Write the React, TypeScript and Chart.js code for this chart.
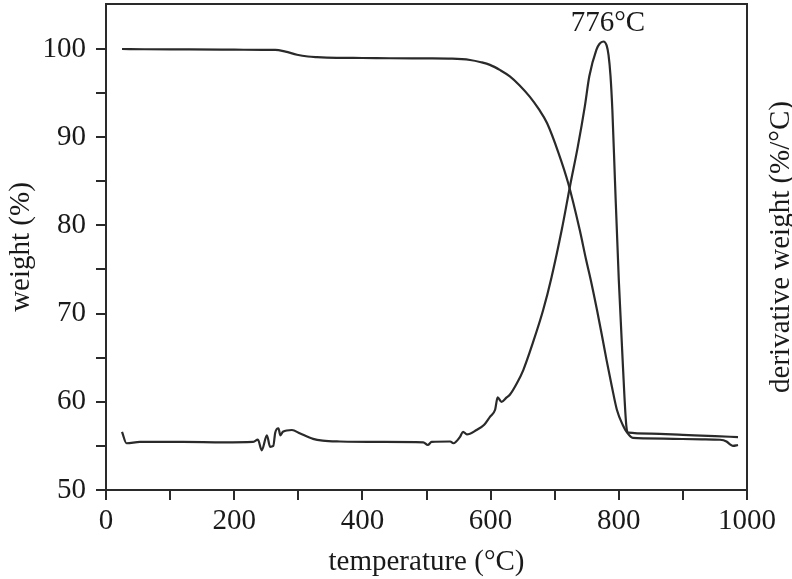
import React, { useEffect, useRef } from "react";
import { Chart, registerables } from "chart.js";

Chart.register(...registerables);

// Thermogravimetric (TG) weight curve
const tgTemp = [25, 60, 130, 200, 245, 264, 280, 298, 315, 329, 360, 400, 443, 500, 540, 568, 585, 599, 615, 630, 645, 661, 675, 688, 706, 721, 739, 749, 756, 766, 774, 781, 789, 797, 806, 813, 822, 840, 885, 930, 958, 968, 973, 978, 986];
const tgWeight = [100, 99.97, 99.95, 99.92, 99.9, 99.9, 99.7, 99.35, 99.15, 99.08, 99.0, 98.98, 98.95, 98.93, 98.9, 98.75, 98.5, 98.2, 97.6, 96.9, 95.9, 94.6, 93.2, 91.6, 88.2, 84.8, 79.5, 76.1, 73.9, 70.4, 67.4, 64.7, 61.8, 59.1, 57.4, 56.5, 55.9, 55.85, 55.8, 55.75, 55.7, 55.5, 55.2, 55.0, 55.1];

// Derivative (DTG) curve
const dtgTemp = [25, 32, 53, 120, 183, 229, 237, 243, 251, 256, 261, 264, 269, 272, 276, 290, 303, 323, 338, 365, 430, 495, 502, 508, 537, 542, 552, 557, 563, 578, 590, 599, 607, 611, 617, 625, 630, 641, 651, 666, 682, 695, 711, 724, 736, 747, 754, 765, 770, 776, 781, 784, 787, 790, 794, 800, 806, 812, 815, 850, 900, 950, 986];
const dtgValue = [56.6, 55.3, 55.45, 55.45, 55.4, 55.45, 55.7, 54.5, 56.2, 54.9, 55.0, 56.5, 57.0, 56.2, 56.6, 56.8, 56.4, 55.8, 55.6, 55.5, 55.45, 55.4, 55.1, 55.45, 55.5, 55.3, 56.0, 56.6, 56.3, 56.8, 57.4, 58.3, 59.1, 60.5, 60.0, 60.5, 60.8, 62.1, 63.6, 66.7, 70.4, 74.1, 79.5, 84.5, 88.9, 93.5, 96.9, 99.9, 100.6, 100.85, 100.4, 99.3, 97.0, 93.0, 85.1, 73.8, 64.7, 57.1, 56.5, 56.4, 56.25, 56.1, 56.0];

const yTickValues = [50, 55, 60, 65, 70, 75, 80, 85, 90, 95, 100];
const peakLabel = "776°C";
const peakLabelPos = { x: 783, y: 102.9 };
const xTitle = "temperature (°C)";
const yTitle = "weight (%)";
const y2Title = "derivative weight (%/°C)";

const FONT = "'Liberation Serif', 'Times New Roman', serif";
const INK = "#1a1a1a";
const LINE = "#2a2a2a";

export default function App() {
  const ref = useRef<HTMLCanvasElement | null>(null);

  useEffect(() => {
    if (!ref.current) return;
    const framePlugin = {
      id: "frameAndText",
      afterDraw(chart: any) {
        const { ctx, chartArea, scales } = chart;
        ctx.save();
        ctx.strokeStyle = LINE;
        ctx.lineWidth = 2;
        ctx.strokeRect(chartArea.left, chartArea.top, chartArea.right - chartArea.left, chartArea.bottom - chartArea.top);
        ctx.fillStyle = INK;
        ctx.font = `29px ${FONT}`;
        ctx.textAlign = "center";
        ctx.textBaseline = "middle";
        ctx.fillText(peakLabel, scales.x.getPixelForValue(peakLabelPos.x), scales.y.getPixelForValue(peakLabelPos.y));
        ctx.translate(781, (chartArea.top + chartArea.bottom) / 2);
        ctx.rotate(-Math.PI / 2);
        ctx.fillText(y2Title, 0, 0);
        ctx.restore();
      },
    };

    const chart = new Chart(ref.current, {
      type: "line",
      data: {
        datasets: [
          {
            label: "weight",
            data: tgTemp.map((t, i) => ({ x: t, y: tgWeight[i] })),
            borderColor: LINE,
            borderWidth: 2.2,
            pointRadius: 0,
            cubicInterpolationMode: "monotone",
            fill: false,
          },
          {
            label: "derivative weight",
            data: dtgTemp.map((t, i) => ({ x: t, y: dtgValue[i] })),
            borderColor: LINE,
            borderWidth: 2.2,
            pointRadius: 0,
            cubicInterpolationMode: "monotone",
            fill: false,
          },
        ],
      },
      options: {
        animation: false,
        responsive: false,
        layout: { padding: { top: 4, right: 45, left: 0, bottom: 0 } },
        plugins: { legend: { display: false }, tooltip: { enabled: false } },
        scales: {
          x: {
            type: "linear",
            min: 0,
            max: 1000,
            afterFit: (s: any) => { s.height = 89; s.paddingLeft = 0; s.paddingRight = 0; },
            ticks: {
              stepSize: 100,
              autoSkip: false,
              maxRotation: 0,
              padding: 4,
              color: INK,
              font: { family: FONT, size: 29 },
              callback: (v: any) => (Number(v) % 200 === 0 ? String(v) : ""),
            },
            grid: { display: true, drawOnChartArea: false, drawTicks: true, tickLength: 10, color: LINE, lineWidth: 2 },
            border: { display: true, color: LINE, width: 2 },
            title: {
              display: true,
              text: xTitle,
              color: INK,
              font: { family: FONT, size: 29, lineHeight: 1 },
              padding: { top: 0, bottom: 2 },
            },
          },
          y: {
            min: 50,
            max: 105.1,
            afterFit: (s: any) => { s.width = 106; s.paddingTop = 0; s.paddingBottom = 0; },
            afterBuildTicks: (s: any) => { s.ticks = yTickValues.map((v) => ({ value: v })); },
            ticks: {
              autoSkip: false,
              padding: 10,
              color: INK,
              font: { family: FONT, size: 29 },
              callback: (v: any) => (Number(v) % 10 === 0 ? String(v) : ""),
            },
            grid: { display: true, drawOnChartArea: false, drawTicks: true, tickLength: 10, color: LINE, lineWidth: 2 },
            border: { display: true, color: LINE, width: 2 },
            title: {
              display: true,
              text: yTitle,
              color: INK,
              font: { family: FONT, size: 29, lineHeight: 1 },
              padding: { top: 7, bottom: 0 },
            },
          },
        },
      },
      plugins: [framePlugin],
    });
    return () => chart.destroy();
  }, []);

  return (
    <div style={{ position: "absolute", left: 0, top: 0, width: 792, height: 579, background: "#fff" }}>
      <canvas ref={ref} width={792} height={579} />
    </div>
  );
}
